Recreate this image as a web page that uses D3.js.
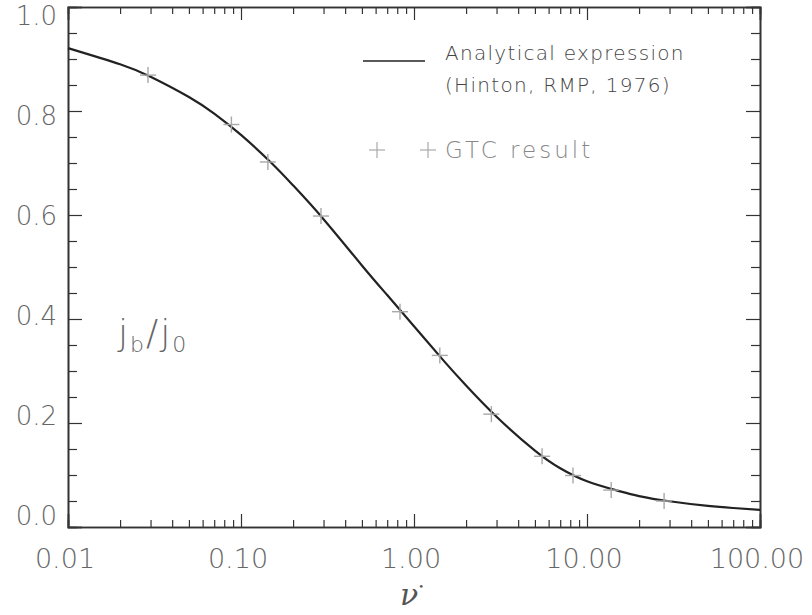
<!DOCTYPE html>
<html>
<head>
<meta charset="utf-8">
<script src="https://cdn.jsdelivr.net/npm/d3@7"></script>
<style>
  body { margin: 0; background: #fff; }
  svg text { font-family: "DejaVu Sans", "Open Sans", sans-serif; font-weight: 200; }
</style>
</head>
<body>
<div id="chart"></div>
<script>
// analytical curve (Hinton, RMP, 1976)
const nuCurve = [0.01, 0.02, 0.03, 0.05, 0.07, 0.1, 0.15, 0.2, 0.3, 0.5, 0.7, 1.0, 1.5, 2, 3, 5, 7, 10, 15, 20, 30, 50, 70, 100];
const jCurve  = [0.921, 0.890, 0.866, 0.827, 0.795, 0.754, 0.700, 0.657, 0.592, 0.503, 0.446, 0.386, 0.318, 0.272, 0.212, 0.147, 0.113, 0.088, 0.070, 0.0595, 0.0495, 0.0405, 0.0365, 0.033];

// GTC simulation points
const nuGTC = [0.029, 0.088, 0.143, 0.29, 0.83, 1.41, 2.8, 5.5, 8.3, 13.8, 27.9];
const jGTC  = [0.869, 0.774, 0.702, 0.598, 0.414, 0.330, 0.217, 0.136, 0.099, 0.071, 0.050];

// tick labels
const xTicks = [0.01, 0.1, 1, 10, 100];
const xTickLabels = ["0.01", "0.10", "1.00", "10.00", "100.00"];
const yTicks = [0, 0.2, 0.4, 0.6, 0.8, 1.0];
const yTickLabels = ["0.0", "0.2", "0.4", "0.6", "0.8", "1.0"];

const W = 812, H = 615;
const margin = { top: 7, right: 52, bottom: 88, left: 68 };

const svg = d3.select("#chart").append("svg")
    .attr("width", W)
    .attr("height", H);

const x = d3.scaleLog()
    .domain([0.01, 100])
    .range([margin.left, W - margin.right]);

const y = d3.scaleLinear()
    .domain([0, 1])
    .range([H - margin.bottom, margin.top]);

const axisColor = "#333";
const labelColor = "#666";

// minor ticks for log axis: 2..9 in each decade
const xMinor = [];
[0.01, 0.1, 1, 10].forEach(d => { for (let k = 2; k <= 9; k++) xMinor.push(d * k); });
const yMinor = d3.range(0, 21).map(i => i * 0.05).filter(v => Math.round(v * 100) % 20 !== 0);

// AXES (ticks drawn inward on all four sides)
const axBottom = svg.append("g").attr("transform", "translate(0," + y(0) + ")");
axBottom.call(d3.axisTop(x).tickValues(xTicks).tickSize(13).tickFormat(""));
axBottom.append("g").call(d3.axisTop(x).tickValues(xMinor).tickSize(7).tickFormat(""));

const axTop = svg.append("g").attr("transform", "translate(0," + y(1) + ")");
axTop.call(d3.axisBottom(x).tickValues(xTicks).tickSize(13).tickFormat(""));
axTop.append("g").call(d3.axisBottom(x).tickValues(xMinor).tickSize(7).tickFormat(""));

const axLeft = svg.append("g").attr("transform", "translate(" + x(0.01) + ",0)");
axLeft.call(d3.axisRight(y).tickValues(yTicks).tickSize(14).tickFormat(""));
axLeft.append("g").call(d3.axisRight(y).tickValues(yMinor).tickSize(9).tickFormat(""));

const axRight = svg.append("g").attr("transform", "translate(" + x(100) + ",0)");
axRight.call(d3.axisLeft(y).tickValues(yTicks).tickSize(14).tickFormat(""));
axRight.append("g").call(d3.axisLeft(y).tickValues(yMinor).tickSize(9).tickFormat(""));

svg.selectAll(".domain").attr("stroke", axisColor).attr("stroke-width", 1.6);
svg.selectAll(".tick line").attr("stroke", axisColor).attr("stroke-width", 1.2);

// tick labels
svg.append("g").selectAll("text")
    .data(xTicks).enter().append("text")
    .attr("x", d => x(d) - 3)
    .attr("y", y(0) + 41)
    .attr("text-anchor", "middle")
    .attr("font-size", 27)
    .attr("fill", labelColor)
    .text((d, i) => xTickLabels[i]);

svg.append("g").selectAll("text")
    .data(yTicks).enter().append("text")
    .attr("x", margin.left - 11)
    .attr("y", d => y(d) - 2 + 20 * d)
    .attr("text-anchor", "end")
    .attr("font-size", 26)
    .attr("fill", labelColor)
    .text((d, i) => yTickLabels[i]);

// axis label  nu*
const xl = svg.append("text")
    .attr("x", x(1) - 2)
    .attr("y", H - 10)
    .attr("text-anchor", "middle")
    .attr("fill", "#555")
    .attr("font-size", 30)
    .style("font-family", "'DejaVu Serif', serif")
    .style("font-style", "italic");
xl.append("tspan").text("ν");
xl.append("tspan").attr("font-size", 10).attr("dy", -15).style("font-style", "normal").text("•");

// j_b / j_0
const yl = svg.append("text")
    .attr("x", 118)
    .attr("y", 345)
    .attr("font-size", 36)
    .attr("fill", "#666")
    .style("letter-spacing", "2px");
yl.append("tspan").text("j");
yl.append("tspan").attr("font-size", 22).attr("dy", 7).text("b");
yl.append("tspan").attr("dy", -7).text("/");
yl.append("tspan").text("j");
yl.append("tspan").attr("font-size", 22).attr("dy", 7).text("0");

// LINE
const line = d3.line()
    .x((d, i) => x(nuCurve[i]))
    .y(d => y(d))
    .curve(d3.curveNatural);

svg.append("path")
    .datum(jCurve)
    .attr("d", line)
    .attr("fill", "none")
    .attr("stroke", "#222")
    .attr("stroke-width", 2.2);

// crosses
function cross(g, cx, cy) {
    g.append("line").attr("x1", cx - 8).attr("x2", cx + 8).attr("y1", cy).attr("y2", cy);
    g.append("line").attr("x1", cx).attr("x2", cx).attr("y1", cy - 8).attr("y2", cy + 8);
}
const pts = svg.append("g").attr("stroke", "#a8a8a8").attr("stroke-width", 1.4);
nuGTC.forEach((d, i) => cross(pts, x(d), y(jGTC[i])));

// LEGEND
const lg = svg.append("g");
lg.append("line")
    .attr("x1", 363).attr("x2", 425).attr("y1", 61).attr("y2", 61)
    .attr("stroke", "#222").attr("stroke-width", 1.6);
lg.append("text").attr("x", 445).attr("y", 60).attr("font-size", 20).attr("fill", "#444")
    .style("letter-spacing", "1.3px").text("Analytical expression");
lg.append("text").attr("x", 445).attr("y", 92).attr("font-size", 20).attr("fill", "#444")
    .style("letter-spacing", "1.3px").text("(Hinton, RMP, 1976)");
const lgp = lg.append("g").attr("stroke", "#aaa").attr("stroke-width", 1.2);
cross(lgp, 377, 150);
cross(lgp, 428, 150);
lg.append("text").attr("x", 445).attr("y", 158).attr("font-size", 23).attr("fill", "#888")
    .style("letter-spacing", "3px").text("GTC result");
</script>
</body>
</html>
